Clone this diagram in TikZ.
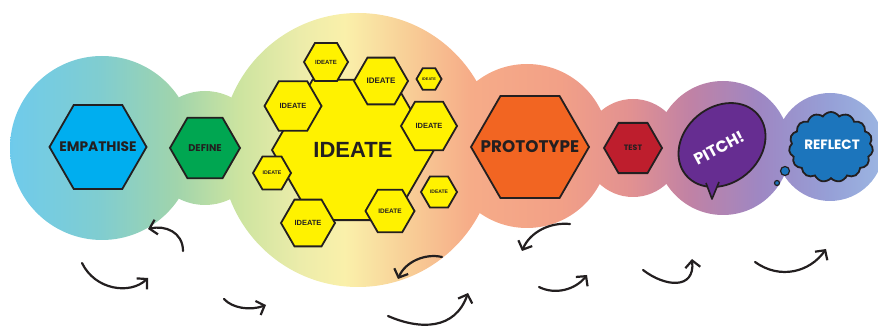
\documentclass[tikz,border=0pt]{standalone}
\usepackage{fontspec}
\setmainfont{Poppins}
\newfontfamily\arialb{Liberation Sans}
\usetikzlibrary{shapes.geometric,shapes.symbols,arrows.meta}
\definecolor{ink}{HTML}{231F20}
\definecolor{empblue}{HTML}{00AEEF}
\definecolor{defgreen}{HTML}{00A651}
\definecolor{ideyellow}{HTML}{FFF200}
\definecolor{protoorange}{HTML}{F26522}
\definecolor{testred}{HTML}{BE1E2D}
\definecolor{pitchpurple}{HTML}{662D91}
\definecolor{reflblue}{HTML}{1C75BC}
\definecolor{g0}{RGB}{104,200,238}
\definecolor{g1}{RGB}{112,203,234}
\definecolor{g2}{RGB}{128,205,208}
\definecolor{g3}{RGB}{160,212,172}
\definecolor{g4}{RGB}{205,228,160}
\definecolor{g5}{RGB}{236,236,170}
\definecolor{g6}{RGB}{250,240,170}
\definecolor{g7}{RGB}{248,205,150}
\definecolor{g8}{RGB}{246,172,136}
\definecolor{g9}{RGB}{242,160,135}
\definecolor{g10}{RGB}{226,145,145}
\definecolor{g11}{RGB}{192,130,165}
\definecolor{g12}{RGB}{158,135,195}
\definecolor{g13}{RGB}{150,160,215}
\definecolor{g14}{RGB}{155,180,225}
\pgfdeclarehorizontalshading{bgrain}{100bp}{color(0bp)=(g0); color(25bp)=(g0); color(25.85bp)=(g1); color(30.69bp)=(g2); color(34.97bp)=(g3); color(38.67bp)=(g4); color(42.08bp)=(g5); color(44.65bp)=(g6); color(48.35bp)=(g7); color(51.77bp)=(g8); color(56.89bp)=(g9); color(60.88bp)=(g10); color(64.29bp)=(g11); color(68.28bp)=(g12); color(72.27bp)=(g13); color(75bp)=(g14); color(100bp)=(g14)}
\tikzset{
  hexa/.style={regular polygon, regular polygon sides=6, inner sep=0pt, draw=ink, line width=1.8pt},
  ihex/.style={hexa, fill=ideyellow},
  lbl/.style={text=ink, inner sep=0pt, font=\bfseries},
  ilbl/.style={text=ink, inner sep=0pt},
  arw/.style={draw=ink, line width=2.2pt, line cap=round, -{Straight Barb[length=7pt,width=15pt]}}
}
\begin{document}
\begin{tikzpicture}[x=1pt,y=-1pt]
\useasboundingbox (0,0) rectangle (878,328);
% background blobs
\begin{scope}
\clip (102,148) circle[radius=92] (205,148) circle[radius=57] (358,150) circle[radius=137]
      (527,146) circle[radius=82] (633,148) circle[radius=49] (723,148) circle[radius=67]
      (830,147) circle[radius=54];
\shade[shading=bgrain] (0,0) rectangle (878,328);
\end{scope}
% empathise, define
\node[hexa, fill=empblue, minimum size=97pt] (emp) at (98,147) {};
\node[lbl, font=\bfseries\fontsize{13.8}{15}\selectfont] (empt) at (emp) {EMPATHISE};
\node[hexa, fill=defgreen, minimum size=70pt] (def) at (205,148) {};
\node[lbl, font=\bfseries\fontsize{9.8}{11}\selectfont] (deft) at (def) {DEFINE};
% ideate
\node[ihex, minimum size=162pt] (ide) at (353,150) {};
\node[ilbl, font=\arialb\bfseries\fontsize{22}{24}\selectfont] (idet) at (ide) {IDEATE};
\node[ihex, minimum size=44pt] (i1) at (326,62) {};
\node[ilbl, font=\arialb\bfseries\fontsize{6}{7}\selectfont] at (i1) {IDEATE};
\node[ihex, minimum size=54pt] (i2) at (381,81) {};
\node[ilbl, font=\arialb\bfseries\fontsize{8}{9}\selectfont] at (i2) {IDEATE};
\node[ihex, minimum size=25pt] (i3) at (429,79) {};
\node[ilbl, font=\arialb\bfseries\fontsize{3.8}{4}\selectfont] at (i3) {IDEATE};
\node[ihex, minimum size=57pt] (i4) at (293,106) {};
\node[ilbl, font=\arialb\bfseries\fontsize{7.5}{8}\selectfont] at (i4) {IDEATE};
\node[ihex, minimum size=56pt] (i5) at (429,126) {};
\node[ilbl, font=\arialb\bfseries\fontsize{7.5}{8}\selectfont] at (i5) {IDEATE};
\node[ihex, minimum size=38pt] (i6) at (272,173) {};
\node[ilbl, font=\arialb\bfseries\fontsize{5.2}{6}\selectfont] at (i6) {IDEATE};
\node[ihex, minimum size=54pt] (i7) at (308,223) {};
\node[ilbl, font=\arialb\bfseries\fontsize{7.5}{8}\selectfont] at (i7) {IDEATE};
\node[ihex, minimum size=49pt] (i8) at (390,211) {};
\node[ilbl, font=\arialb\bfseries\fontsize{6.5}{7}\selectfont] at (i8) {IDEATE};
\node[ihex, minimum size=36pt] (i9) at (439,192) {};
\node[ilbl, font=\arialb\bfseries\fontsize{5}{6}\selectfont] at (i9) {IDEATE};
% prototype, test
\node[hexa, fill=protoorange, minimum size=118pt] (pro) at (530,147) {};
\node[lbl, font=\bfseries\fontsize{16.8}{18}\selectfont] (prot) at (pro) {PROTOTYPE};
\node[hexa, fill=testred, minimum size=58pt] (tst) at (633,148) {};
\node[lbl, font=\bfseries\fontsize{7.8}{9}\selectfont] (tstt) at (tst) {TEST};
% pitch
\node[ellipse, draw=ink, fill=pitchpurple, line width=1.8pt, minimum width=94pt, minimum height=76pt, rotate=40, inner sep=0pt] (pit) at (722,145) {};
\coordinate (tl) at (705,180);
\coordinate (tr) at (719,182);
\coordinate (tp) at (712,199);
\fill[pitchpurple] (tl) -- (tp) -- (tr) -- ([yshift=6pt]tr) -- ([yshift=6pt]tl) -- cycle;
\draw[ink, line width=1.6pt, line join=round] (706,183) -- (tp) -- (tr);
\node[text=white, inner sep=0pt, rotate=28, font=\bfseries\fontsize{16}{17}\selectfont] (pitt) at (719,148) {PITCH!};
% reflect
\node[cloud, cloud puffs=15, cloud puff arc=115, aspect=1.4, draw=ink, fill=reflblue, line width=1.8pt, minimum width=84pt, minimum height=70pt, inner sep=0pt] (ref) at (831,147) {};
\node[text=white, inner sep=0pt, font=\bfseries\fontsize{13.5}{15}\selectfont] (reft) at (832,145) {REFLECT};
\node[circle, draw=ink, fill=reflblue, line width=1.2pt, minimum size=9pt, inner sep=0pt] (b1) at (785,171) {};
\node[circle, draw=ink, fill=reflblue, line width=1.2pt, minimum size=5pt, inner sep=0pt] (b2) at (777,183) {};
% arrows
\coordinate (a1s) at (183,251); \coordinate (a1e) at (148,229);
\coordinate (a2s) at (82,263);  \coordinate (a2e) at (148,278);
\coordinate (a3s) at (224,299); \coordinate (a3e) at (266,305);
\coordinate (a4s) at (442,257); \coordinate (a4e) at (398,279);
\coordinate (a5s) at (570,224); \coordinate (a5e) at (522,251);
\coordinate (a6s) at (388,316); \coordinate (a6e) at (468,293);
\coordinate (a7s) at (539,287); \coordinate (a7e) at (587,275);
\coordinate (a8s) at (643,270); \coordinate (a8e) at (692,259);
\coordinate (a9s) at (755,262); \coordinate (a9e) at (826,249);
\draw[arw] (a1s) .. controls (183,232) and (165,225) .. (a1e);
\draw[arw] (a2s) .. controls (95,290) and (130,295) .. (a2e);
\draw[arw] (a3s) .. controls (232,308) and (250,311) .. (a3e);
\draw[arw] (a4s) .. controls (425,253) and (405,262) .. (a4e);
\draw[arw] (a5s) .. controls (550,222) and (530,232) .. (a5e);
\draw[arw] (a6s) .. controls (420,330) and (455,330) .. (a6e);
\draw[arw] (a7s) .. controls (555,295) and (575,290) .. (a7e);
\draw[arw] (a8s) .. controls (665,287) and (695,290) .. (a8e);
\draw[arw] (a9s) .. controls (780,280) and (810,272) .. (a9e);
\end{tikzpicture}
\end{document}
